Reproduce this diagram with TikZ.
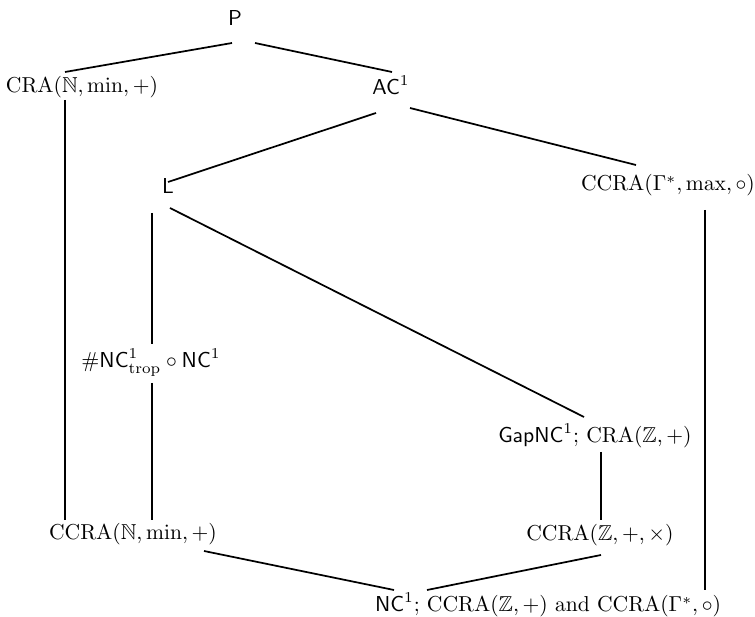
\documentclass[tikz,border=0pt]{standalone}
\usepackage{amssymb}
\begin{document}
\begin{tikzpicture}[x=0.463pt,y=-0.463pt,
  cls/.style={anchor=base,inner sep=0pt,font=\fontsize{10}{12}\selectfont},
  edge/.style={line width=0.8pt}]
\useasboundingbox (0,0) rectangle (755,617);
\node[cls] (P)    at (235,26)  {$\mathsf{P}$};
\node[cls] (crn)  at (82,93)   {$\mathrm{CRA}(\mathbb{N},\min,+)$};
\node[cls] (ac)   at (391,95)  {$\mathsf{AC}^1$};
\node[cls] (L)    at (168,194) {$\mathsf{L}$};
\node[cls] (ccg)  at (668,191) {$\mathrm{CCRA}(\Gamma^*,\max,\circ)$};
\node[cls] (nct)  at (151,368) {$\#\mathsf{NC}^1_{\mathrm{trop}}\circ\mathsf{NC}^1$};
\node[cls] (gap)  at (595,443) {$\mathsf{GapNC}^1$; $\mathrm{CRA}(\mathbb{Z},+)$};
\node[cls] (ccn)  at (133,540) {$\mathrm{CCRA}(\mathbb{N},\min,+)$};
\node[cls] (ccz)  at (600,541) {$\mathrm{CCRA}(\mathbb{Z},+,\times)$};
\node[cls] (nc)   at (548,612) {$\mathsf{NC}^1$; $\mathrm{CCRA}(\mathbb{Z},+)$ and $\mathrm{CCRA}(\Gamma^*,\circ)$};
% connector end points
\coordinate (P-l) at (232,43);   \coordinate (crn-t) at (65,72);
\coordinate (P-r) at (255,43);   \coordinate (ac-t) at (392,72);
\coordinate (ac-l) at (376,113); \coordinate (L-t) at (168,182);
\coordinate (ac-r) at (410,108); \coordinate (ccg-t) at (636,165);
\coordinate (crn-b) at (65,100); \coordinate (ccn-l) at (65,520);
\coordinate (L-b) at (152,213);  \coordinate (nct-t) at (152,344);
\coordinate (L-r) at (170,208);  \coordinate (gap-t) at (584,417);
\coordinate (nct-b) at (152,383);\coordinate (ccn-r) at (152,520);
\coordinate (ccg-b) at (705,210);\coordinate (nc-r) at (705,590);
\coordinate (gap-b) at (601,452);\coordinate (ccz-t) at (601,520);
\coordinate (ccn-b) at (204,551);\coordinate (nc-l) at (394,590);
\coordinate (ccz-b) at (601,555);\coordinate (nc-m) at (427,590);
\draw[edge] (P-l) -- (crn-t);
\draw[edge] (P-r) -- (ac-t);
\draw[edge] (ac-l) -- (L-t);
\draw[edge] (ac-r) -- (ccg-t);
\draw[edge] (crn-b) -- (ccn-l);
\draw[edge] (L-b) -- (nct-t);
\draw[edge] (L-r) -- (gap-t);
\draw[edge] (nct-b) -- (ccn-r);
\draw[edge] (ccg-b) -- (nc-r);
\draw[edge] (gap-b) -- (ccz-t);
\draw[edge] (ccn-b) -- (nc-l);
\draw[edge] (ccz-b) -- (nc-m);
\end{tikzpicture}
\end{document}
